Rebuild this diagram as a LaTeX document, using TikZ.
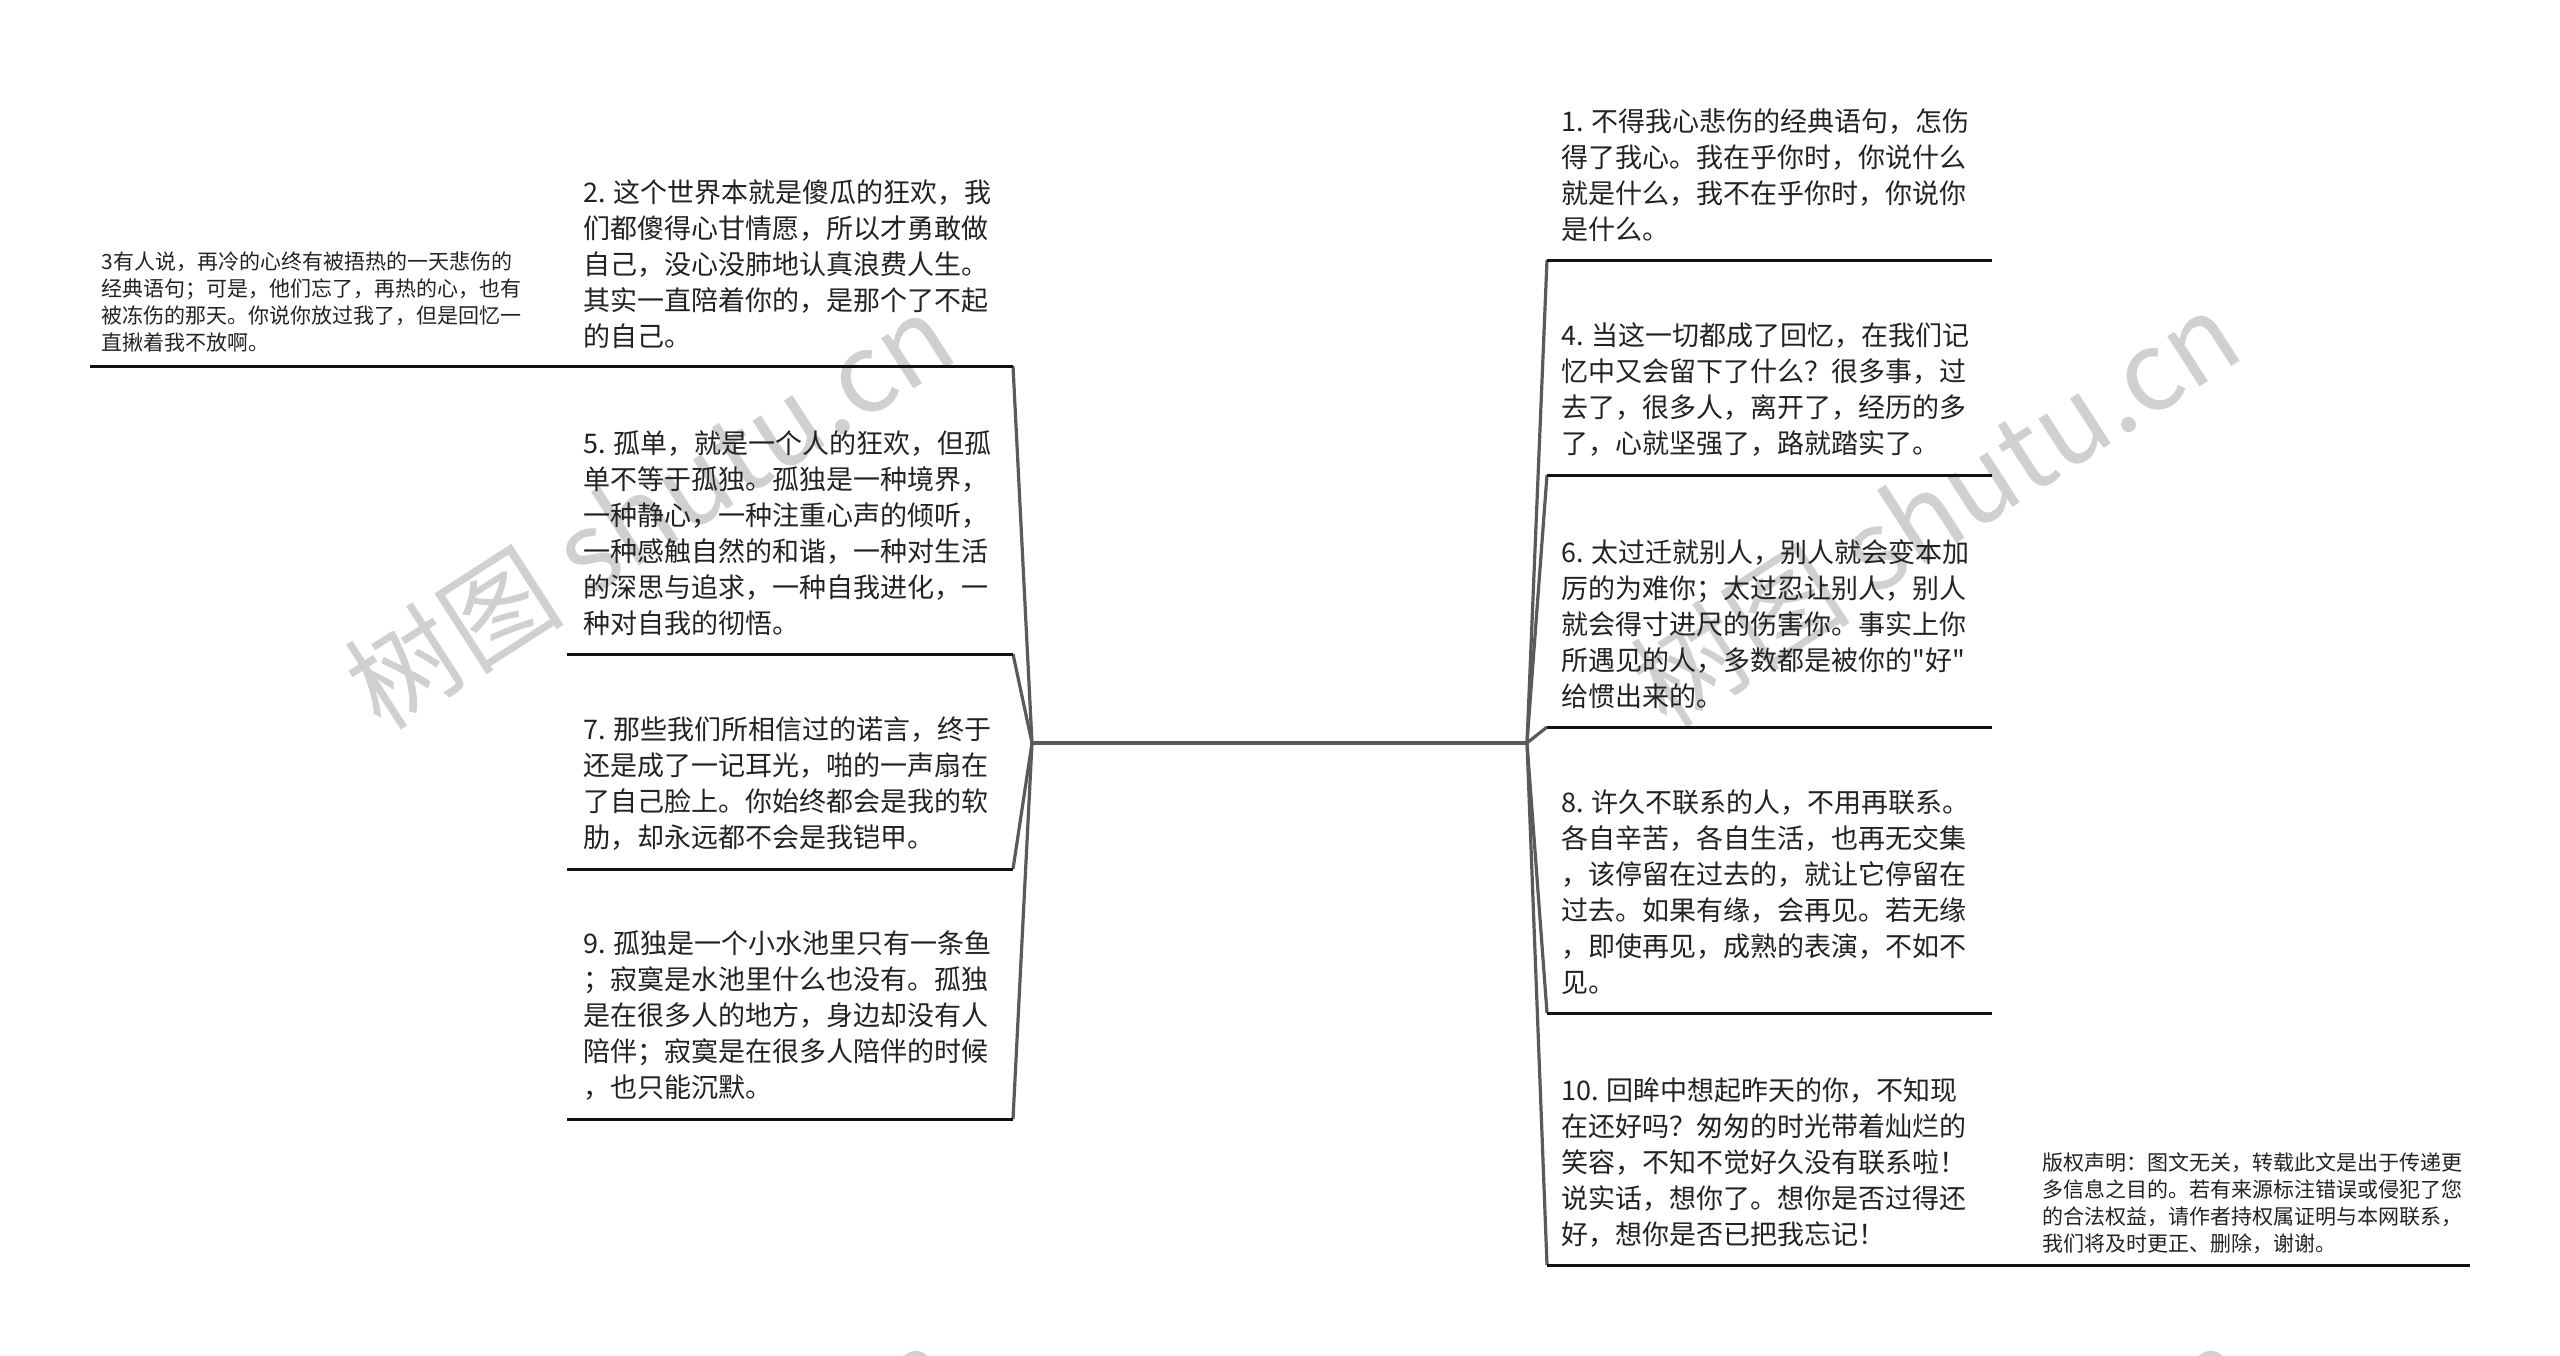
\documentclass[tikz,border=0pt]{standalone}
\usepackage{fontspec}
\setmainfont{Noto Sans CJK SC}[Ligatures=TeXOff]
\definecolor{textc}{HTML}{222222}
\definecolor{linec}{HTML}{111111}
\definecolor{connc}{HTML}{5A5A5A}
\definecolor{wmc}{HTML}{D0D0D0}
\begin{document}
\begin{tikzpicture}[x=0.5pt,y=-0.5pt,
  txt/.style={anchor=west,inner sep=0pt,align=left,text=textc,font=\fontsize{13.5pt}{18pt}\selectfont},
  smalltxt/.style={txt,font=\fontsize{10.5pt}{13.5pt}\selectfont},
  uline/.style={draw=linec,line width=1.5pt},
  conn/.style={draw=connc,line width=1.6pt,line join=round},
  wm/.style={text=wmc,inner sep=0pt,font=\fontsize{55pt}{55pt}\selectfont,rotate=32.8}]
\useasboundingbox (0,0) rectangle (2560,1355);
% watermarks
\node[wm] (wm1) at (649,510) {树图 shutu.cn};
\node[wm] (wm2) at (1935,508) {树图 shutu.cn};
\node[wm] (wm3) at (650,1543) {树图 shutu.cn};
\node[wm] (wm4) at (1945,1543) {树图 shutu.cn};
% root ends
\coordinate (rootL) at (1032,743);
\coordinate (rootR) at (1527,743);
\draw[conn,line width=2pt] (rootL) -- (rootR);
% underline coordinates
\coordinate (u3a) at (90,366);   \coordinate (u3b) at (567,366);
\coordinate (u2a) at (567,366);  \coordinate (u2b) at (1013,366);
\coordinate (u5a) at (567,654);  \coordinate (u5b) at (1013,654);
\coordinate (u7a) at (567,869);  \coordinate (u7b) at (1013,869);
\coordinate (u9a) at (567,1119); \coordinate (u9b) at (1013,1119);
\coordinate (u1a) at (1547,260); \coordinate (u1b) at (1992,260);
\coordinate (u4a) at (1547,475); \coordinate (u4b) at (1992,475);
\coordinate (u6a) at (1547,727); \coordinate (u6b) at (1992,727);
\coordinate (u8a) at (1547,1013); \coordinate (u8b) at (1992,1013);
\coordinate (u10a) at (1547,1265); \coordinate (u10b) at (1992,1265);
\coordinate (ucra) at (1992,1265); \coordinate (ucrb) at (2470,1265);
% connectors
\foreach \u in {u2b,u5b,u7b,u9b} \draw[conn] (rootL) -- (\u);
\foreach \u in {u1a,u4a,u6a,u8a,u10a} \draw[conn] (rootR) -- (\u);
% underlines
\foreach \a/\b in {u3a/u3b,u2a/u2b,u5a/u5b,u7a/u7b,u9a/u9b,u1a/u1b,u4a/u4b,u6a/u6b,u8a/u8b,u10a/u10b,ucra/ucrb}
  \draw[uline] (\a) -- (\b);
% texts
\node[smalltxt] (n3) at (101,302) {3有人说，再冷的心终有被捂热的一天悲伤的\\经典语句；可是，他们忘了，再热的心，也有\\被冻伤的那天。你说你放过我了，但是回忆一\\直揪着我不放啊。};
\node[txt] (n2) at (583,264) {2. 这个世界本就是傻瓜的狂欢，我\\们都傻得心甘情愿，所以才勇敢做\\自己，没心没肺地认真浪费人生。\\其实一直陪着你的，是那个了不起\\的自己。};
\node[txt] (n5) at (583,533) {5. 孤单，就是一个人的狂欢，但孤\\单不等于孤独。孤独是一种境界，\\一种静心，一种注重心声的倾听，\\一种感触自然的和谐，一种对生活\\的深思与追求，一种自我进化，一\\种对自我的彻悟。};
\node[txt] (n7) at (583,784) {7. 那些我们所相信过的诺言，终于\\还是成了一记耳光，啪的一声扇在\\了自己脸上。你始终都会是我的软\\肋，却永远都不会是我铠甲。};
\node[txt] (n9) at (583,1016) {9. 孤独是一个小水池里只有一条鱼\\；寂寞是水池里什么也没有。孤独\\是在很多人的地方，身边却没有人\\陪伴；寂寞是在很多人陪伴的时候\\，也只能沉默。};
\node[txt] (n1) at (1561,175) {1. 不得我心悲伤的经典语句，怎伤\\得了我心。我在乎你时，你说什么\\就是什么，我不在乎你时，你说你\\是什么。};
\node[txt] (n4) at (1561,390) {4. 当这一切都成了回忆，在我们记\\忆中又会留下了什么？很多事，过\\去了，很多人，离开了，经历的多\\了，心就坚强了，路就踏实了。};
\node[txt] (n6) at (1561,624) {6. 太过迁就别人，别人就会变本加\\厉的为难你；太过忍让别人，别人\\就会得寸进尺的伤害你。事实上你\\所遇见的人，多数都是被你的"好"\\给惯出来的。};
\node[txt] (n8) at (1561,892) {8. 许久不联系的人，不用再联系。\\各自辛苦，各自生活，也再无交集\\，该停留在过去的，就让它停留在\\过去。如果有缘，会再见。若无缘\\，即使再见，成熟的表演，不如不\\见。};
\node[txt] (n10) at (1561,1162) {10. 回眸中想起昨天的你，不知现\\在还好吗？匆匆的时光带着灿烂的\\笑容，不知不觉好久没有联系啦！\\说实话，想你了。想你是否过得还\\好，想你是否已把我忘记！};
\node[smalltxt] (cr) at (2042,1203) {版权声明：图文无关，转载此文是出于传递更\\多信息之目的。若有来源标注错误或侵犯了您\\的合法权益，请作者持权属证明与本网联系，\\我们将及时更正、删除，谢谢。};
\end{tikzpicture}
\end{document}
